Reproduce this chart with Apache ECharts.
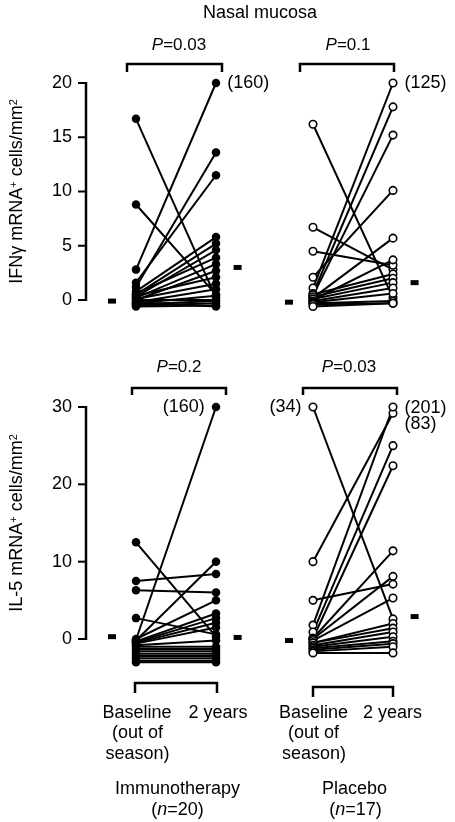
<!DOCTYPE html>
<html><head><meta charset="utf-8">
<script src="https://cdn.jsdelivr.net/npm/echarts@6/dist/echarts.min.js"></script>
<style>html,body{margin:0;padding:0;background:#fff}#c{width:455px;height:822px;background:#fff}</style>
</head><body><div id="c"></div>
<script>
// Time points (x positions 0 and 1)
const timepoints = ['Baseline (out of season)', '2 years'];

// IFN-gamma mRNA+ cells/mm2, immunotherapy (n=20); values as plotted (capped at 20)
const ifnImmunoBaseline = [16.7, 8.8, 2.8, 1.2, 1.6, 0.8, 0.5, 0.3, 0.6, 0.2, 0.0, 0.4, 0.1, -0.2, -0.3, -0.4, -0.5, -0.6, 0.0, -0.2];
const ifnImmuno2y       = [0.2, 0.5, 20, 13.6, 11.5, 5.8, 5.2, 4.6, 3.9, 3.3, 2.7, 2.1, 1.5, 1.0, 0.4, -0.1, -0.3, -0.5, 0.0, -0.6];
const ifnImmunoMedians  = [-0.1, 3.0];
const ifnImmunoNotes2y  = {2: '(160)'};

// IFN-gamma, placebo (n=17)
const ifnPlaceboBaseline = [16.2, 6.7, 4.5, 2.1, 1.1, 0.6, 0.4, 0.2, 0.0, 0.5, 0.3, 0.1, -0.1, -0.2, -0.3, -0.4, -0.6];
const ifnPlacebo2y       = [0.2, 2.8, 3.2, 10.1, 20, 17.8, 15.2, 5.7, 3.7, 2.4, 2.0, 1.6, 1.1, 0.6, -0.1, -0.3, -0.3];
const ifnPlaceboMedians  = [-0.2, 1.6];
const ifnPlaceboNotes2y  = {4: '(125)'};

// IL-5 mRNA+ cells/mm2, immunotherapy (n=20); capped at 30
const il5ImmunoBaseline = [12.5, 7.5, 6.3, 2.7, -0.1, -0.2, 0.0, -0.3, -0.4, -0.5, -0.6, -0.8, -1.0, -1.3, -1.6, -1.9, -2.2, -2.5, -2.8, -3.0];
const il5Immuno2y       = [0.3, 8.4, 6.0, 0.6, 30, 10.0, 5.0, 3.3, 2.7, 2.1, 1.5, -0.2, -1.0, -1.3, -1.6, -1.9, -2.2, -2.5, -2.8, -3.0];
const il5ImmunoMedians  = [0.3, 0.2];
const il5ImmunoNotes2y  = {4: '(160)'};

// IL-5, placebo (n=17)
const il5PlaceboBaseline = [30, 10, 5.0, 1.8, 0.9, 0.1, 0.1, 0.0, -0.2, -0.5, -0.5, -0.8, -1.0, -1.2, -1.4, -1.6, -1.8];
const il5Placebo2y       = [2.6, 29.2, 7.1, 30, 25, 22.4, 11.4, 8.1, 5.3, 2.0, 1.4, 0.9, 0.3, -0.3, -0.6, -1.0, -1.8];
const il5PlaceboMedians  = [-0.2, 2.9];
const il5PlaceboNotesBase = {0: '(34)'};
const il5PlaceboNotes2y   = {3: '(201)', 1: '(83)'};

const ifnTicks = [0, 5, 10, 15, 20];
const il5Ticks = [0, 10, 20, 30];

const FONT = '"Liberation Sans", Arial, Helvetica, sans-serif';
const X_MIN = -0.625, X_MAX = 1.5;

const chart = echarts.init(document.getElementById('c'), null, {renderer: 'canvas'});

const panels = [
  {base: ifnImmunoBaseline, y2: ifnImmuno2y, med: ifnImmunoMedians, open: false,
   notesBase: {}, notes2y: ifnImmunoNotes2y, notePos2y: 'right'},
  {base: ifnPlaceboBaseline, y2: ifnPlacebo2y, med: ifnPlaceboMedians, open: true,
   notesBase: {}, notes2y: ifnPlaceboNotes2y, notePos2y: 'right'},
  {base: il5ImmunoBaseline, y2: il5Immuno2y, med: il5ImmunoMedians, open: false,
   notesBase: {}, notes2y: il5ImmunoNotes2y, notePos2y: 'left'},
  {base: il5PlaceboBaseline, y2: il5Placebo2y, med: il5PlaceboMedians, open: true,
   notesBase: il5PlaceboNotesBase, notes2y: il5PlaceboNotes2y, notePos2y: 'right'}
];

const grids = [
  {left: 86, top: 83, width: 170, height: 217},
  {left: 263, top: 83, width: 170, height: 217},
  {left: 86, top: 407, width: 170, height: 232},
  {left: 263, top: 407, width: 170, height: 232}
];

const xAxes = grids.map((g, i) => ({type: 'value', gridIndex: i, min: X_MIN, max: X_MAX, show: false}));

function yAxisFor(i, ticks, name, show) {
  return {
    type: 'value', gridIndex: i, min: ticks[0], max: ticks[ticks.length - 1], interval: ticks[1] - ticks[0], show: show,
    splitLine: {show: false},
    axisLine: {show: false, onZero: false},
    axisTick: {show: false},
    axisLabel: {color: '#000', fontSize: 18, fontFamily: FONT, margin: 14},
    name: name, nameLocation: 'middle', nameGap: 60, nameRotate: 90,
    nameTextStyle: {color: '#000', fontSize: 18, fontFamily: FONT,
      rich: {sup: {fontSize: 11, fontFamily: FONT, color: '#000', verticalAlign: 'top', padding: [0, 0, 6, 0]}}}
  };
}

const yAxes = [
  yAxisFor(0, ifnTicks, 'IFNγ mRNA{sup|+} cells/mm{sup|2}', true),
  yAxisFor(1, ifnTicks, '', false),
  yAxisFor(2, il5Ticks, 'IL-5 mRNA{sup|+} cells/mm{sup|2}', true),
  yAxisFor(3, il5Ticks, '', false)
];

const series = [];
panels.forEach((p, i) => {
  p.base.forEach((b, k) => {
    series.push({
      type: 'line', xAxisIndex: i, yAxisIndex: i, clip: false, z: 2,
      symbol: 'none', showSymbol: false,
      lineStyle: {color: '#000', width: 2},
      data: [[0, b], [1, p.y2[k]]]
    });
  });
  const pts = [];
  const lab = (txt, pos, extra) => Object.assign({show: true, formatter: txt, position: pos, distance: 7,
      color: '#000', fontSize: 18, fontFamily: FONT}, extra || {});
  p.base.forEach((b, k) => {
    const item = {value: [0, b]};
    if (p.notesBase[k]) item.label = lab(p.notesBase[k], 'left');
    pts.push(item);
  });
  p.y2.forEach((v, k) => {
    const item = {value: [1, v]};
    if (p.notes2y[k]) {
      const extra = (p.notes2y[k] === '(83)') ? {offset: [0, 11]} : ((p.notes2y[k] === '(201)') ? {offset: [0, 1]} : {});
      item.label = lab(p.notes2y[k], p.notePos2y, extra);
    }
    pts.push(item);
  });
  series.push({
    type: 'scatter', xAxisIndex: i, yAxisIndex: i, clip: false, z: 3,
    symbol: 'circle', symbolSize: p.open ? 7.5 : 8.5,
    itemStyle: p.open ? {color: '#fff', borderColor: '#000', borderWidth: 1.6, opacity: 1} : {color: '#000', opacity: 1},
    data: pts
  });
  series.push({
    type: 'scatter', xAxisIndex: i, yAxisIndex: i, clip: false, z: 3,
    symbol: 'rect', symbolSize: [8, 5], itemStyle: {color: '#000', opacity: 1},
    data: [[-0.3, p.med[0]], [1.27, p.med[1]]]
  });
});

function bracket(x1, x2, yTop, yBot) {
  return {type: 'polyline', silent: true,
    shape: {points: [[x1, yBot], [x1, yTop], [x2, yTop], [x2, yBot]]},
    style: {stroke: '#000', lineWidth: 2.5, fill: null}};
}
function txt(x, y, text, size) {
  return {type: 'text', x: x, y: y, silent: true,
    style: {text: text, fill: '#000', fontSize: size || 18, fontFamily: FONT,
      align: 'center', verticalAlign: 'middle',
      rich: {i: {fontStyle: 'italic', fontSize: size || 18, fontFamily: FONT, fill: '#000'}}}};
}

const graphic = [
  txt(260, 13, 'Nasal mucosa', 18),
  txt(179, 45, '{i|P}=0.03', 17),
  txt(348, 45, '{i|P}=0.1', 17),
  txt(179, 367, '{i|P}=0.2', 17),
  txt(349, 367, '{i|P}=0.03', 17),
  bracket(127, 222, 64, 72),
  bracket(300, 394, 64, 72),
  bracket(132, 226, 388, 395),
  bracket(303, 397, 388, 395),
  bracket(135, 217, 683, 693),
  bracket(313, 393, 687, 697),
  txt(137, 713, 'Baseline'),
  txt(137.5, 733, '(out of'),
  txt(137.5, 754, 'season)'),
  txt(218, 713, '2 years'),
  txt(313.5, 713, 'Baseline'),
  txt(313.5, 733, '(out of'),
  txt(314, 754, 'season)'),
  txt(392.5, 713, '2 years'),
  txt(177.5, 789, 'Immunotherapy'),
  txt(177.5, 810, '({i|n}=20)'),
  txt(354.5, 789, 'Placebo'),
  txt(355.5, 810, '({i|n}=17)')
];

chart.setOption({
  animation: false,
  textStyle: {fontFamily: FONT},
  tooltip: {show: false},
  grid: grids,
  xAxis: xAxes,
  yAxis: yAxes,
  series: series
});

// Y axis line + outward ticks for the two left panels, located through the axis scales
function toPx(gi, ticks, t) {
  let p = null;
  try { p = chart.convertToPixel({xAxisIndex: gi, yAxisIndex: gi}, [X_MIN, t]); } catch (e) { p = null; }
  if (!p || !isFinite(p[0]) || !isFinite(p[1])) {
    const g = grids[gi], t0 = ticks[0], t1 = ticks[ticks.length - 1];
    p = [g.left, g.top + g.height * (1 - (t - t0) / (t1 - t0))];
  }
  return p;
}
[[0, ifnTicks], [2, il5Ticks]].forEach(([gi, ticks]) => {
  const top = toPx(gi, ticks, ticks[ticks.length - 1]);
  const bot = toPx(gi, ticks, ticks[0]);
  graphic.push({type: 'polyline', silent: true, zlevel: 1, z: 100,
    shape: {points: [[top[0], top[1] - 1], [bot[0], bot[1] + 1]]},
    style: {stroke: '#000', lineWidth: 2.5, fill: null}});
  ticks.forEach(t => {
    const p = toPx(gi, ticks, t);
    graphic.push({type: 'polyline', silent: true, zlevel: 1, z: 100,
      shape: {points: [[p[0] - 8, p[1]], [p[0], p[1]]]},
      style: {stroke: '#000', lineWidth: 2, fill: null}});
  });
});

chart.setOption({graphic: graphic});
</script>
</body></html>
